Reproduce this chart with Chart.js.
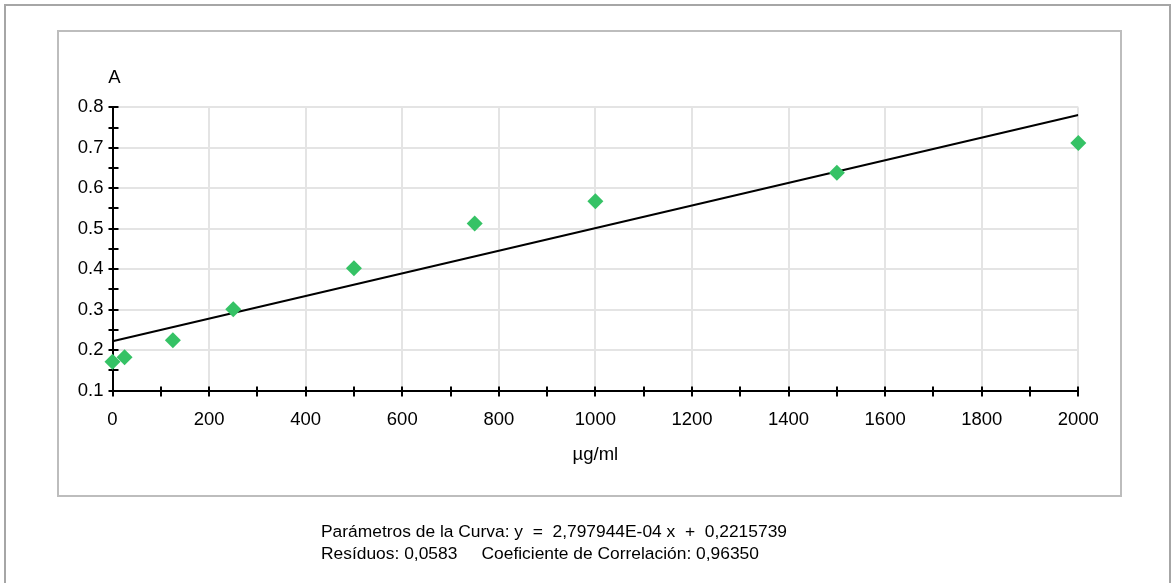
<!DOCTYPE html>
<html>
<head>
<meta charset="utf-8">
<script src="https://cdn.jsdelivr.net/npm/chart.js@4"></script>
<style>
  body { margin: 0; width: 1172px; height: 583px; overflow: hidden; background: #fff; font-family: "Liberation Sans", Arial, sans-serif; }
  .frame { position: absolute; left: 4px; top: 4px; width: 1163px; height: 600px; border: 2px solid #a6a6a6; }
  .panel { position: absolute; left: 57px; top: 30px; width: 1061px; height: 463px; border: 2px solid #bdbdbd; }
  canvas#graph { position: absolute; left: 0; top: 0; }
  .params { position: absolute; left: 321px; top: 520px; font-size: 17.4px; line-height: 22px; white-space: pre; color: #000; }
</style>
</head>
<body>
<div class="frame"></div>
<div class="panel"></div>
<canvas id="graph" width="1172" height="583"></canvas>
<div class="params">Parámetros de la Curva: y  =  2,797944E-04 x  +  0,2215739
Resíduos: 0,0583     Coeficiente de Correlación: 0,96350</div>
<script>
// standards: concentration (µg/ml) vs absorbance
const concentrations = [0, 25, 125, 250, 500, 750, 1000, 1500, 2000];
const absorbances = [0.171, 0.182, 0.224, 0.301, 0.402, 0.513, 0.568, 0.638, 0.712];

// fitted curve parameters
const slope = 2.797944E-04;
const intercept = 0.2215739;
const fitRange = [0, 2000];

const xLimits = [0, 2000];
const yLimits = [0.1, 0.8];

const labelSize = 18.5;

Chart.defaults.font.family = '"Liberation Sans", Arial, sans-serif';
Chart.defaults.color = "#000";

// small crossing ticks on both axes and the "A" label
const axisMarks = {
    id: "axisMarks",
    beforeDatasetsDraw(chart) {
        const {ctx, chartArea: a, scales: {x, y}} = chart;
        ctx.save();
        ctx.strokeStyle = "#000";
        ctx.lineWidth = 2;
        ctx.beginPath();
        for (let v = xLimits[0]; v <= xLimits[1]; v += 100) {
            const px = Math.round(x.getPixelForValue(v));
            ctx.moveTo(px, a.bottom - 4);
            ctx.lineTo(px, a.bottom + 6);
        }
        for (let i = 2; i <= 16; i++) {
            const py = Math.round(y.getPixelForValue(i * 0.05));
            ctx.moveTo(a.left - 4, py);
            ctx.lineTo(a.left + 6, py);
        }
        ctx.stroke();
        ctx.fillStyle = "#000";
        ctx.font = labelSize + 'px "Liberation Sans", Arial, sans-serif';
        ctx.textAlign = "center";
        ctx.textBaseline = "alphabetic";
        ctx.fillText("A", a.left + 2, 83);
        ctx.restore();
    }
};

const graph = new Chart("graph", {
    type: "scatter",
    data: {
        datasets: [{
            data: concentrations.map((c, i) => ({x: c, y: absorbances[i]})),
            pointStyle: "rectRot",
            pointRadius: 8,
            pointBackgroundColor: "#35c265",
            pointBorderWidth: 0,
            clip: false,
            order: 1
        }, {
            data: fitRange.map(c => ({x: c, y: slope * c + intercept})),
            showLine: true,
            borderColor: "#000",
            borderWidth: 2,
            pointRadius: 0,
            order: 2
        }]
    },
    options: {
        responsive: false,
        animation: false,
        layout: {
            padding: {left: 52.5, right: 93.7, top: 107.3, bottom: 112.5}
        },
        scales: {
            x: {
                type: "linear",
                min: xLimits[0],
                max: xLimits[1],
                afterFit: s => { s.height = 80; },
                ticks: {
                    stepSize: 200,
                    padding: 18,
                    font: {size: labelSize},
                    maxRotation: 0,
                    callback: v => String(v)
                },
                grid: {color: "#e4e4e4", lineWidth: 2, drawTicks: false},
                border: {color: "#000", width: 2},
                title: {
                    display: true,
                    text: "µg/ml",
                    font: {size: labelSize},
                    padding: {top: 0, bottom: 4}
                }
            },
            y: {
                min: yLimits[0],
                max: yLimits[1],
                afterFit: s => { s.width = 60; },
                ticks: {
                    stepSize: 0.1,
                    padding: 9,
                    font: {size: labelSize},
                    callback: v => v.toFixed(1)
                },
                grid: {color: "#e4e4e4", lineWidth: 2, drawTicks: false},
                border: {color: "#000", width: 2}
            }
        },
        plugins: {
            legend: {display: false},
            tooltip: {enabled: false}
        }
    },
    plugins: [axisMarks]
});
</script>
</body>
</html>
